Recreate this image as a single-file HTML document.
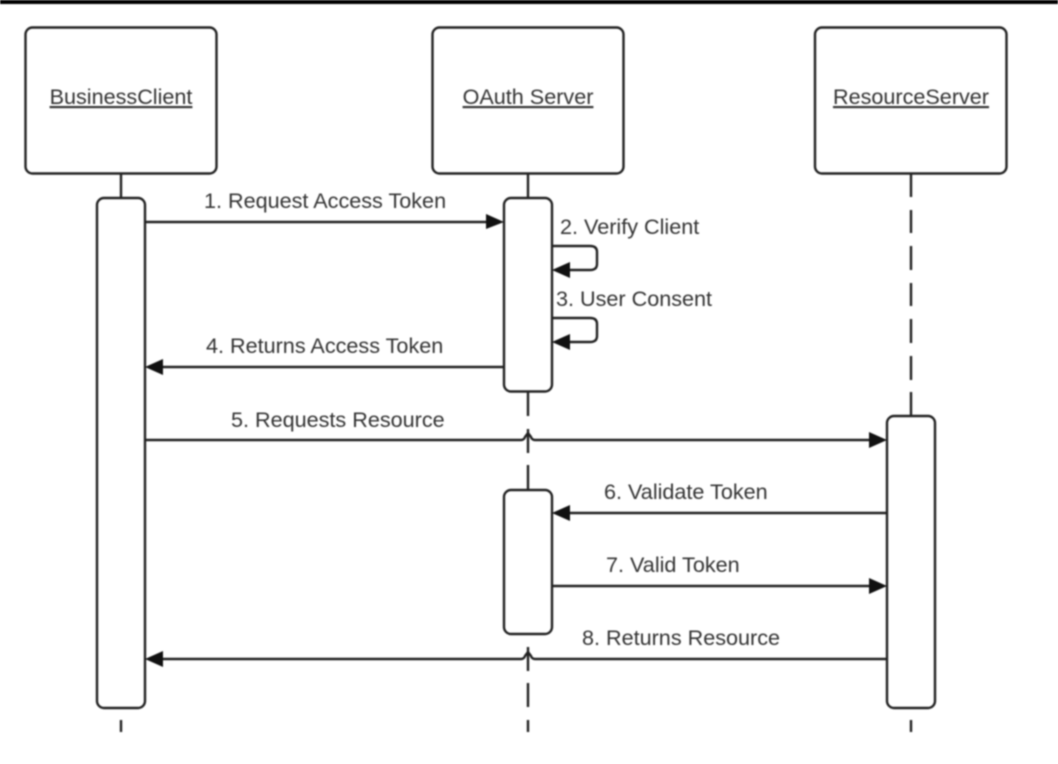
<!DOCTYPE html>
<html>
<head>
<meta charset="utf-8">
<style>
html,body{margin:0;padding:0;background:#fff;width:1058px;height:764px;overflow:hidden}
svg{display:block;filter:blur(0.7px)}
text{font-family:"Liberation Sans",sans-serif;font-size:21.6px;fill:#333}
.u{text-decoration:underline}
</style>
</head>
<body>
<svg width="1058" height="764" viewBox="0 0 1058 764" xmlns="http://www.w3.org/2000/svg">
<rect x="0" y="0" width="1058" height="4" fill="#000"/>
<g fill="none" stroke="#222" stroke-width="2.4">
<rect x="25.5" y="27.5" width="191" height="146" rx="7"/>
<rect x="432.5" y="27.5" width="191" height="146" rx="7"/>
<rect x="815" y="27.5" width="191.500" height="146" rx="7"/>
<rect x="97" y="198" width="48" height="510" rx="7"/>
<rect x="504" y="198" width="48" height="193.500" rx="7"/>
<rect x="504" y="490" width="48" height="144" rx="7"/>
<rect x="887" y="416" width="48" height="292" rx="7"/>
<path d="M121 173V198M121 720V732"/>
<path d="M528 173V198M528 392V416M528 429V453M528 465V490M528 647V671M528 683V707M528 720V732"/>
<path d="M911 173V197M911 210V233M911 246V270M911 283V306M911 319V343M911 356V380M911 392V416M911 720V732"/>
<path d="M145 222H492"/>
<path d="M552 246H590Q597 246 597 252V264Q597 270 590 270H564"/>
<path d="M552 318H590Q597 318 597 324V336Q597 342 590 342H564"/>
<path d="M504 367H157"/>
<path d="M145 440H521Q524 440 525 437L528 433L531 437Q532 440 535 440H875"/>
<path d="M887 513H564"/>
<path d="M552 586H875"/>
<path d="M887 659H535Q532 659 531 656L528 652L525 656Q524 659 521 659H157"/>
</g>
<g fill="#111">
<path d="M486 214L504 222L486 229Z"/>
<path d="M552 270L570 262V278Z"/>
<path d="M552 342L570 334V350Z"/>
<path d="M145 367L163 359V375Z"/>
<path d="M869 432L887 440L869 448Z"/>
<path d="M552 513L570 505V521Z"/>
<path d="M869 578L887 586L869 594Z"/>
<path d="M145 659L163 651V667Z"/>
</g>
<text class="u" x="121" y="104" text-anchor="middle">BusinessClient</text>
<text class="u" x="528" y="104" text-anchor="middle">OAuth Server</text>
<text class="u" x="911" y="104" text-anchor="middle">ResourceServer</text>
<text x="204" y="208">1. Request Access Token</text>
<text x="560" y="234">2. Verify Client</text>
<text x="556" y="306">3. User Consent</text>
<text x="206" y="353">4. Returns Access Token</text>
<text x="231" y="427">5. Requests Resource</text>
<text x="604" y="499">6. Validate Token</text>
<text x="606" y="572">7. Valid Token</text>
<text x="582" y="645">8. Returns Resource</text>
</svg>
</body>
</html>
